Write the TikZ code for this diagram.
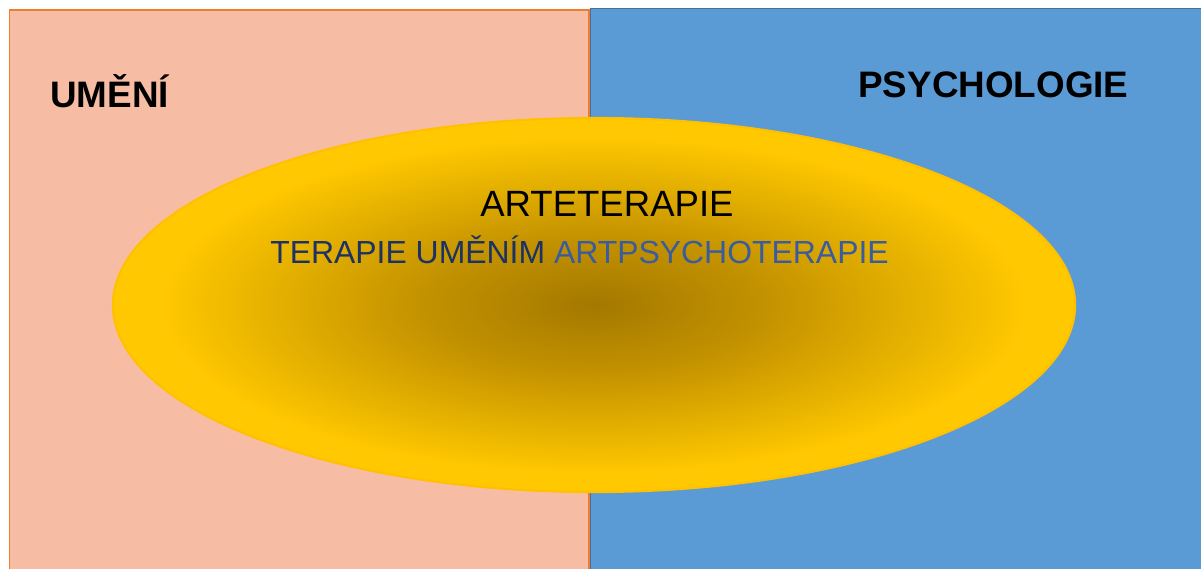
\documentclass[tikz,border=0pt]{standalone}
\usepackage{fontspec}
\setmainfont{Liberation Sans}
\definecolor{umenifill}{HTML}{F7BDA4}
\definecolor{umenidraw}{HTML}{ED7D31}
\definecolor{psychofill}{HTML}{5B9BD5}
\definecolor{psychodraw}{HTML}{41719C}
\definecolor{glowdark}{HTML}{A47800}
\definecolor{glowmid}{HTML}{C39200}
\definecolor{glowgold}{HTML}{FFC800}
\definecolor{glowedge}{HTML}{FFC000}
\definecolor{termnavy}{HTML}{1C3264}
\definecolor{termblue}{HTML}{3A5C9F}
\pgfdeclareradialshading{artglow}{\pgfpoint{0bp}{0bp}}{color(0bp)=(glowdark); color(9bp)=(glowmid); color(22.5bp)=(glowgold); color(25bp)=(glowgold); color(50bp)=(glowgold)}
\tikzset{
    fieldlabel/.style={font=\bfseries\fontsize{26.2}{30}\selectfont, anchor=base west, inner sep=0pt},
    termlabel/.style={anchor=base west, inner sep=0pt}
}
\begin{document}
\begin{tikzpicture}[x=0.025cm, y=-0.025cm]
    \useasboundingbox (0,0) rectangle (1201,569);
    \clip (0,0) rectangle (1201,569);
    \filldraw[fill=umenifill, draw=umenidraw, line width=0.8pt] (9.5,10) rectangle (589,580);
    \filldraw[fill=psychofill, draw=psychodraw, line width=1.2pt] (590.5,8.5) rectangle (1210,580);
    \node[fieldlabel] (umeni) at (50,108) {UMĚNÍ};
    \node[fieldlabel] (psychologie) at (858,98) {PSYCHOLOGIE};
    \shade[shading=artglow, draw=glowedge, line width=1.5pt] (594,305) ellipse [x radius=12.025cm, y radius=4.675cm];
    \node[termlabel, font=\fontsize{26}{30}\selectfont] (arteterapie) at (480,216.5) {ARTETERAPIE};
    \node[termlabel, font=\fontsize{22.7}{27}\selectfont] (terapie) at (270,263.5) {\color{termnavy}TERAPIE UMĚNÍM \color{termblue}ARTPSYCHOTERAPIE};
\end{tikzpicture}
\end{document}
